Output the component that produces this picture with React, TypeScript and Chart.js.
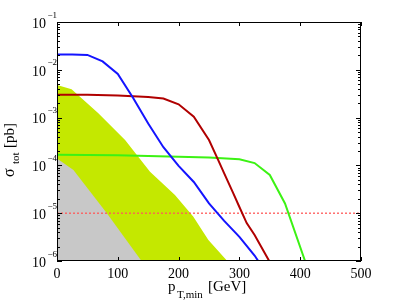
import React, { useEffect, useRef } from 'react';
import { Chart, registerables } from 'chart.js';
Chart.register(...registerables);

// ---- data (x = pT,min in GeV, y = sigma_tot in pb) ----
const blueX = [0, 25, 50, 75, 100, 125, 150, 175, 200, 225, 250, 275, 300, 325, 331];
const blueY = [0.021, 0.021, 0.0205, 0.015, 0.0082, 0.0026, 0.00075, 2.4e-4, 9.8e-5, 4.5e-5, 1.6e-5, 6.9e-6, 3.2e-6, 1.3e-6, 1e-6];

const redX = [0, 50, 100, 150, 175, 200, 225, 250, 265, 275, 290, 300, 312, 325, 349];
const redY = [0.003, 0.003, 0.0029, 0.0027, 0.0025, 0.0019, 0.00104, 3.4e-4, 1.3e-4, 6.8e-5, 2.6e-5, 1.35e-5, 6.2e-6, 3.5e-6, 1e-6];

const greenX = [0, 50, 100, 150, 200, 250, 300, 325, 350, 375, 408];
const greenY = [1.68e-4, 1.66e-4, 1.63e-4, 1.58e-4, 1.52e-4, 1.46e-4, 1.35e-4, 1.12e-4, 6.3e-5, 1.6e-5, 1e-6];

const yellowX = [0, 24, 68, 112, 153, 194, 224, 249, 280];
const yellowY = [4.8e-3, 3.9e-3, 1.23e-3, 3.4e-4, 7.4e-5, 2.4e-5, 8.5e-6, 2.75e-6, 1e-6];

const grayX = [0, 27, 82, 139];
const grayY = [1.4e-4, 8e-5, 1e-5, 1e-6];

const limitX = [0, 500];
const limitY = [1e-5, 1e-5];

const xTicks = [0, 100, 200, 300, 400, 500];
const yDecades = [-6, -5, -4, -3, -2, -1];

const FONT = '"Liberation Serif", "Times New Roman", serif';

function pts(xs: number[], ys: number[]) {
  return xs.map((x, i) => ({ x, y: ys[i] }));
}

const axesPlugin = {
  id: 'matlabAxes',
  afterDatasetsDraw(chart: any) {
    const { ctx, chartArea: a, scales } = chart;
    const xs = scales.x;
    const ys = scales.y;
    ctx.save();
    ctx.strokeStyle = '#000';
    ctx.lineWidth = 1;
    ctx.beginPath();
    for (const t of xTicks) {
      const px = Math.round(xs.getPixelForValue(t)) + 0.5;
      ctx.moveTo(px, a.bottom);
      ctx.lineTo(px, a.bottom - 4);
      ctx.moveTo(px, a.top);
      ctx.lineTo(px, a.top + 4);
    }
    for (const d of yDecades) {
      for (let m = 1; m <= 9; m++) {
        if (d === -1 && m > 1) break;
        const v = m * Math.pow(10, d);
        const py = Math.round(ys.getPixelForValue(v)) + 0.5;
        const len = m === 1 ? 5 : 3;
        ctx.moveTo(a.left, py);
        ctx.lineTo(a.left + len, py);
        ctx.moveTo(a.right, py);
        ctx.lineTo(a.right - len, py);
      }
    }
    ctx.stroke();
    ctx.strokeRect(a.left + 0.5, a.top + 0.5, a.right - a.left - 1, a.bottom - a.top - 1);

    // tick labels
    ctx.fillStyle = '#000';
    ctx.textBaseline = 'alphabetic';
    ctx.font = `14px ${FONT}`;
    ctx.textAlign = 'center';
    for (const t of xTicks) {
      const px = xs.getPixelForValue(t);
      ctx.fillText(String(t), px, a.bottom + 17);
    }
    for (const d of yDecades) {
      const py = ys.getPixelForValue(Math.pow(10, d));
      ctx.font = `14px ${FONT}`;
      ctx.textAlign = 'right';
      ctx.fillText('10', a.left - 11, py + 5.7);
      ctx.font = `9px ${FONT}`;
      ctx.textAlign = 'left';
      ctx.fillText('\u2212' + String(-d), a.left - 9.5, py - 4.5);
    }

    // x title
    ctx.textAlign = 'left';
    ctx.font = `15px ${FONT}`;
    ctx.fillText('p', 168, 291);
    ctx.font = `11px ${FONT}`;
    ctx.fillText('T,min', 177, 297.5);
    ctx.font = `15px ${FONT}`;
    ctx.fillText('[GeV]', 208, 291);

    // y title (rotated)
    ctx.save();
    ctx.translate(13.5, 177);
    ctx.rotate(-Math.PI / 2);
    ctx.font = `16px ${FONT}`;
    ctx.fillText('\u03c3', 0, 0);
    ctx.font = `11px ${FONT}`;
    ctx.fillText('tot', 13, 5.5);
    ctx.font = `15px ${FONT}`;
    ctx.textAlign = 'right';
    ctx.fillText('[pb]', 54, 0);
    ctx.restore();

    ctx.restore();
  },
};

export default function App() {
  const ref = useRef<HTMLCanvasElement | null>(null);
  useEffect(() => {
    if (!ref.current) return;
    const line = (data: any, color: string, extra: any = {}) => ({
      data,
      borderColor: color,
      backgroundColor: color,
      borderWidth: 2,
      pointRadius: 0,
      tension: 0,
      fill: false,
      ...extra,
    });
    const chart = new Chart(ref.current, {
      type: 'line',
      data: {
        datasets: [
          line(pts(blueX, blueY), '#1414ff'),
          line(pts(redX, redY), '#b00000'),
          line(pts(greenX, greenY), '#3cf214'),
          line(pts(limitX, limitY), '#ff5a5a', { borderWidth: 1.3, borderDash: [2, 2] }),
          line(pts(grayX, grayY), '#c8c8c8', { borderWidth: 0, fill: 'start', backgroundColor: '#c8c8c8' }),
          line(pts(yellowX, yellowY), '#c4e800', { borderWidth: 0, fill: 'start', backgroundColor: '#c4e800' }),
        ] as any,
      },
      options: {
        animation: false,
        responsive: false,
        devicePixelRatio: 1,
        layout: { padding: { left: 57, right: 38, top: 22, bottom: 41 } },
        plugins: { legend: { display: false }, tooltip: { enabled: false } },
        events: [],
        scales: {
          x: { type: 'linear', min: 0, max: 500, display: false },
          y: { type: 'logarithmic', min: 1e-6, max: 1e-1, display: false },
        },
      } as any,
      plugins: [axesPlugin],
    });
    return () => chart.destroy();
  }, []);
  return (
    <div style={{ position: 'fixed', left: 0, top: 0, width: 399, height: 302, background: '#fff' }}>
      <canvas ref={ref} width={399} height={302} style={{ width: 399, height: 302, display: 'block' }} />
    </div>
  );
}
